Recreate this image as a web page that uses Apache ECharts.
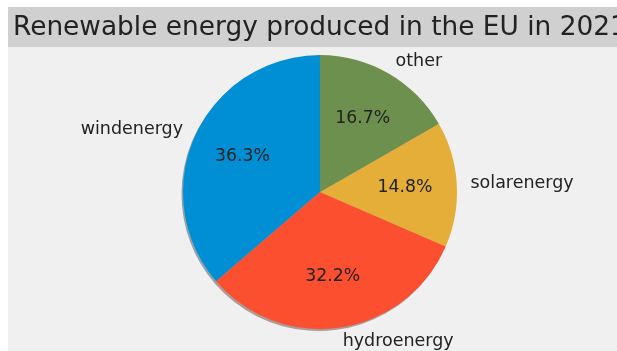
<!DOCTYPE html>
<html><head><meta charset="utf-8">
<script src="https://cdn.jsdelivr.net/npm/echarts@6/dist/echarts.min.js"></script>
<style>html,body{margin:0;padding:0;background:#fff}#c{width:617px;height:351px}</style>
</head><body><div id="c"></div>
<script>
const categories = ['windenergy', 'hydroenergy', 'solarenergy', 'other'];
const shares = [36.3, 32.2, 14.8, 16.7];
const colors = ['#008fd5', '#fc4f30', '#e5ae38', '#6d904f'];
const shadowColors = ['#002b40', '#4b180e', '#453411', '#212b18'];
const titleText = 'Renewable energy produced in the EU in 2021';

const R = 137, CX = 320, CY = 192;
const font = 'DejaVu Sans';
const data = categories.map((c, i) => ({name: c, value: shares[i], itemStyle: {color: colors[i]}}));
const shadowData = categories.map((c, i) => ({name: c, value: shares[i], itemStyle: {color: shadowColors[i]}}));
const ghost = categories.map((c, i) => ({name: c, value: shares[i]}));

const chart = echarts.init(document.getElementById('c'), null, {renderer: 'canvas'});
chart.setOption({
  backgroundColor: '#ffffff',
  animation: false,
  graphic: [
    {type: 'rect', z: -10, shape: {x: 8, y: 7, width: 620, height: 350}, style: {fill: '#f0f0f0'}},
    {type: 'rect', z: -9, shape: {x: 8, y: 7, width: 620, height: 40}, style: {fill: '#d0d0d0'}}
  ],
  title: {
    text: titleText, left: 13, top: 13, padding: 0,
    textStyle: {fontFamily: font, fontSize: 26.4, fontWeight: 'normal', color: '#222', lineHeight: 30}
  },
  series: [
    {
      type: 'pie', center: [CX - 1.5, CY + 2], radius: R, startAngle: 90, clockwise: false,
      data: shadowData, silent: true, avoidLabelOverlap: false, z: 1,
      label: {show: false}, labelLine: {show: false},
      itemStyle: {borderWidth: 0, opacity: 0.4}
    },
    {
      type: 'pie', center: [CX, CY], radius: R, startAngle: 90, clockwise: false,
      data: data, silent: true, avoidLabelOverlap: false, z: 2,
      label: {show: false}, labelLine: {show: false},
      itemStyle: {borderWidth: 0}
    },
    {
      type: 'pie', center: [CX, CY], radius: [R * 0.5, R * 0.7], startAngle: 90, clockwise: false,
      data: ghost, silent: true, avoidLabelOverlap: false, percentPrecision: 1, z: 3,
      itemStyle: {color: 'rgba(0,0,0,0)', borderWidth: 0},
      label: {show: true, position: 'inside', formatter: '{d}%', fontFamily: font, fontSize: 17.3, color: '#222'},
      labelLine: {show: false}
    },
    {
      type: 'pie', center: [CX, CY], radius: R * 1.1, startAngle: 90, clockwise: false,
      data: ghost, silent: true, avoidLabelOverlap: false, z: 3,
      itemStyle: {color: 'rgba(0,0,0,0)', borderWidth: 0},
      label: {show: true, position: 'outside', formatter: '{b}', fontFamily: font, fontSize: 17.5, color: '#222', distanceToLabelLine: 0},
      labelLine: {show: false, length: 0, length2: 0}
    }
  ]
});
</script></body></html>
